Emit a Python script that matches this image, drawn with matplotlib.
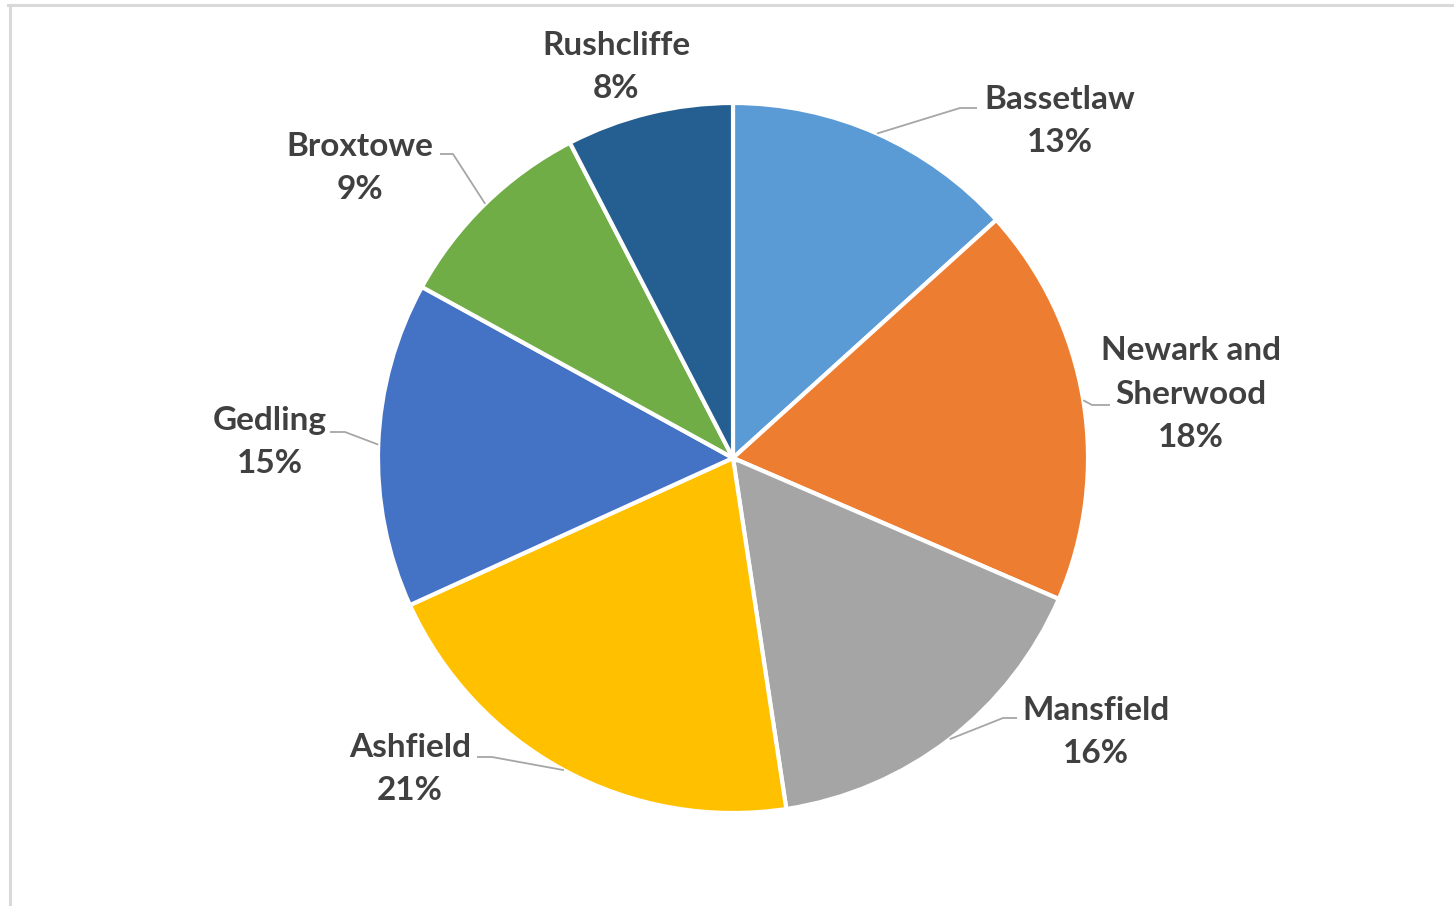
import math
import matplotlib
matplotlib.use('Agg')
import matplotlib.pyplot as plt

districts = ['Bassetlaw', 'Newark and\nSherwood', 'Mansfield', 'Ashfield',
             'Gedling', 'Broxtowe', 'Rushcliffe']
shares = [13.3, 18.2, 16.1, 20.6, 14.8, 9.4, 7.6]
colors = ['#5B9BD5', '#ED7D31', '#A5A5A5', '#FFC000', '#4472C4', '#70AD47', '#255E91']

W, H = 1454, 906
fig = plt.figure(figsize=(W / 100, H / 100), dpi=100)
ax = fig.add_axes([0, 0, 1, 1])

def Y(py):
    return H - py

cx, cy, r = 733, Y(458), 355
wedges, _ = ax.pie(shares, colors=colors, startangle=90, counterclock=False,
                   center=(cx, cy), radius=r,
                   wedgeprops=dict(edgecolor='white', linewidth=3))
ax.set_xlim(0, W)
ax.set_ylim(0, H)
ax.set_aspect('equal')
ax.axis('off')

# label layout (pixel centres) and leader-line elbows (pixel)
label_pos = [(1060, 121), (1191, 394), (1096, 732), (410, 769),
             (270, 442), (360, 168), (616, 67)]
elbows = [[(960, 108), (977, 108)],
          [(1092, 405), (1110, 405)],
          [(1003, 718), (1017, 718)],
          [(492, 757), (477, 757)],
          [(345, 432), (330, 432)],
          [(453, 154), (440, 154)],
          None]

for w, name, s, (lx, ly), el in zip(wedges, districts, shares, label_pos, elbows):
    ax.text(lx, Y(ly), f"{name}\n{round(s)}%", ha='center', va='center',
            fontsize=24, fontweight='bold', family='Lato', color='#404040',
            linespacing=1.6)
    if el is not None:
        mid = math.radians((w.theta1 + w.theta2) / 2)
        sx, sy = cx + r * math.cos(mid), cy + r * math.sin(mid)
        xs = [sx] + [p[0] for p in el]
        ys = [sy] + [Y(p[1]) for p in el]
        ax.plot(xs, ys, color='#A6A6A6', lw=1.3, solid_capstyle='butt')

# chart frame (top and left visible)
ax.plot([8, W], [Y(5), Y(5)], color='#D9D9D9', lw=2.2, clip_on=False)
ax.plot([9.5, 9.5], [Y(5), 0], color='#D9D9D9', lw=2.2, clip_on=False)

fig.savefig('out.png', dpi=100, facecolor='white')
